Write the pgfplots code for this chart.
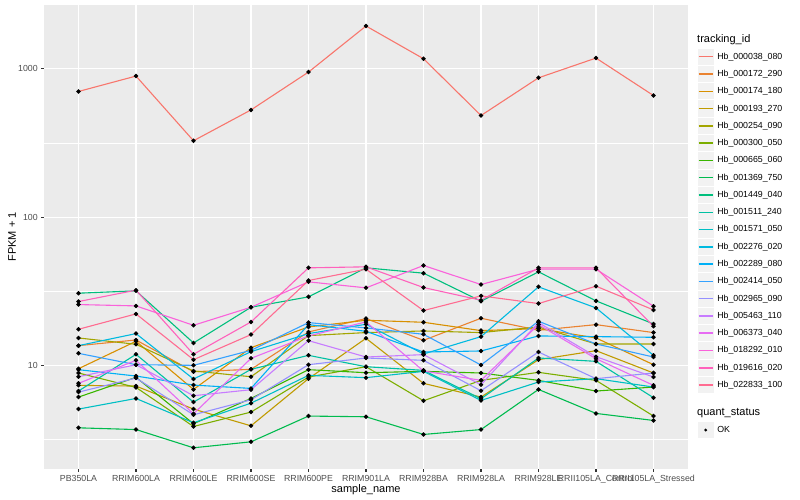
\documentclass[border=0pt]{standalone}
\usepackage{fontspec}
\setmainfont{Liberation Sans}
\usepackage{pgfplots}
\usepackage{pgfplotstable}
\pgfplotsset{compat=1.18}

\definecolor{panel}{HTML}{EBEBEB}
\definecolor{keybg}{HTML}{F2F2F2}
\definecolor{tickgrey}{HTML}{333333}
\definecolor{labgrey}{HTML}{4D4D4D}
\definecolor{c1}{HTML}{F8766D}
\definecolor{c2}{HTML}{EA8331}
\definecolor{c3}{HTML}{D89000}
\definecolor{c4}{HTML}{C09B00}
\definecolor{c5}{HTML}{A3A500}
\definecolor{c6}{HTML}{7CAE00}
\definecolor{c7}{HTML}{39B600}
\definecolor{c8}{HTML}{00BB4E}
\definecolor{c9}{HTML}{00BF7D}
\definecolor{c10}{HTML}{00C1A3}
\definecolor{c11}{HTML}{00BFC4}
\definecolor{c12}{HTML}{00BAE0}
\definecolor{c13}{HTML}{00B0F6}
\definecolor{c14}{HTML}{35A2FF}
\definecolor{c15}{HTML}{9590FF}
\definecolor{c16}{HTML}{C77CFF}
\definecolor{c17}{HTML}{E76BF3}
\definecolor{c18}{HTML}{FA62DB}
\definecolor{c19}{HTML}{FF62BC}
\definecolor{c20}{HTML}{FF6C91}

\newcommand{\ticksize}{\fontsize{8.8bp}{10bp}\selectfont}
\newcommand{\titlesize}{\fontsize{11bp}{13bp}\selectfont}

% FPKM + 1 per sample (x = sample index), one column per tracking_id
\pgfplotstableread{
x  s1   s2    s3    s4    s5    s6    s7    s8    s9    s10   s11   s12   s13   s14   s15   s16   s17   s18   s19   s20
0  703  13.58 9.49  7.33  15.30 8.88  6.11  3.79  30.66 6.71  5.07  13.58 9.35  12.05 6.60  8.38  7.56  25.70 26.93 17.51
1  893  14.83 14.53 7.25  13.87 7.10  8.30  3.69  31.80 11.87 5.98  16.37 8.47  10.10 8.21  10.10 10.81 25.17 32.13 22.23
2  327  9.06  6.88  5.07  9.16  3.87  4.04  2.78  14.16 5.65  4.10  8.09  7.36  10.00 4.64  6.24  4.71  18.63 11.87 10.92
3  528  9.40  13.16 3.91  8.38  4.84  5.98  3.05  24.65 9.40  5.56  12.37 6.99  12.63 5.86  6.85  11.15 24.65 19.63 16.12
4  950  16.80 18.16 8.13  15.87 8.34  9.35  4.55  28.96 11.68 8.56  16.37 18.82 19.42 10.10 14.68 15.79 36.57 45.46 37.34
5  1943 20.67 20.14 15.22 16.63 9.79  8.92  4.50  45.46 9.79  8.26  18.92 16.97 17.88 11.21 11.38 19.63 33.31 46.17 44.52
6  1169 14.75 19.52 7.56  17.06 5.77  9.11  3.42  41.84 9.25  9.11  11.93 12.30 16.20 10.81 11.81 9.16  47.14 33.48 23.41
7  484  20.78 17.15 6.11  16.63 7.92  8.88  3.69  27.07 5.95  5.80  15.62 12.50 10.05 6.74  7.40  7.92  35.08 27.49 29.41
8  869  17.24 17.69 10.92 18.16 8.97  7.92  6.88  42.72 11.21 7.72  33.83 15.79 19.83 12.30 19.42 18.82 44.52 45.46 26.10
9  1181 18.82 15.30 12.56 13.94 7.92  6.71  4.74  27.21 10.64 8.13  24.40 15.62 13.94 8.13  11.44 11.09 44.52 45.46 34.19
10 660  16.63 10.10 8.88  13.94 4.55  7.14  4.25  19.02 6.05  7.14  11.68 15.46 11.38 8.88  8.34  7.33  25.04 18.34 23.65
}\fpkm

\pgfplotsset{
  ggkey/.style={
    legend style={draw=none, fill=none, inner sep=0pt, outer sep=0pt,
      row sep=0pt, column sep=0pt, anchor=north west,
      font=\ticksize, text=black,
      /tikz/every odd column/.append style={column sep=1bp}},
    legend cell align=left,
  },
  gglinekey/.style={legend image code/.code={
    \path[draw=none, fill=none] (0bp,-8.64bp) rectangle (17.28bp,8.64bp);
    \path[draw=none, fill=keybg] (0.5bp,-8.14bp) rectangle (16.78bp,8.14bp);
    \path[draw, ##1, line width=1.5bp] (1.7bp,0bp) -- (15.6bp,0bp);
  }},
  ggpointkey/.style={legend image code/.code={
    \path[draw=none, fill=none] (0bp,-8.64bp) rectangle (17.28bp,8.64bp);
    \path[draw=none, fill=keybg] (0.5bp,-8.14bp) rectangle (16.78bp,8.14bp);
    \path[draw=none, fill=black] (8.64bp,0bp) circle (1.6bp);
  }},
}

\begin{document}
\begin{tikzpicture}
\path[use as bounding box] (0,0) rectangle (800bp,500bp);

\begin{axis}[
  ggkey,
  at={(44bp,31bp)}, anchor=south west,
  width=644bp, height=464bp, scale only axis,
  xmin=-0.6, xmax=10.6,
  ymode=log, ymin=2.0, ymax=2692,
  xtick={0,...,10},
  xticklabels={PB350LA,RRIM600LA,RRIM600LE,RRIM600SE,RRIM600PE,RRIM901LA,RRIM928BA,RRIM928LA,RRIM928LE,RRII105LA\_Control,RRII105LA\_Stressed},
  ytick={10,100,1000}, yticklabels={10,100,1000},
  minor ytick={3.1623,31.623,316.23},
  xmajorgrids, ymajorgrids, yminorgrids,
  major grid style={white, line width=1.07bp},
  minor grid style={white, line width=0.53bp},
  axis background/.style={fill=panel},
  axis line style={draw=none},
  xtick pos=left, ytick pos=left,
  tick align=outside,
  major tick length=2.75bp, minor tick length=0bp,
  tick style={color=tickgrey, line width=1.07bp},
  ticklabel style={font=\ticksize, text=labgrey},
  /pgf/number format/assume math mode=true,
  xlabel={sample\_name}, ylabel={FPKM + 1},
  label style={font=\titlesize, text=black},
  xlabel style={at={(axis description cs:0.5,-0.0453)}, anchor=center},
  ylabel style={at={(axis description cs:-0.0497,0.5)}, anchor=center},
  legend style={at={(1.014,0.9071)}},
  every axis plot/.append style={line width=1.1bp, mark=none},
  every axis plot post/.append style={gglinekey},
]
\addplot[c1]  table[x=x, y=s1]  {\fpkm}; \addlegendentry{Hb\_000038\_080}
\addplot[c2]  table[x=x, y=s2]  {\fpkm}; \addlegendentry{Hb\_000172\_290}
\addplot[c3]  table[x=x, y=s3]  {\fpkm}; \addlegendentry{Hb\_000174\_180}
\addplot[c4]  table[x=x, y=s4]  {\fpkm}; \addlegendentry{Hb\_000193\_270}
\addplot[c5]  table[x=x, y=s5]  {\fpkm}; \addlegendentry{Hb\_000254\_090}
\addplot[c6]  table[x=x, y=s6]  {\fpkm}; \addlegendentry{Hb\_000300\_050}
\addplot[c7]  table[x=x, y=s7]  {\fpkm}; \addlegendentry{Hb\_000665\_060}
\addplot[c8]  table[x=x, y=s8]  {\fpkm}; \addlegendentry{Hb\_001369\_750}
\addplot[c9]  table[x=x, y=s9]  {\fpkm}; \addlegendentry{Hb\_001449\_040}
\addplot[c10] table[x=x, y=s10] {\fpkm}; \addlegendentry{Hb\_001511\_240}
\addplot[c11] table[x=x, y=s11] {\fpkm}; \addlegendentry{Hb\_001571\_050}
\addplot[c12] table[x=x, y=s12] {\fpkm}; \addlegendentry{Hb\_002276\_020}
\addplot[c13] table[x=x, y=s13] {\fpkm}; \addlegendentry{Hb\_002289\_080}
\addplot[c14] table[x=x, y=s14] {\fpkm}; \addlegendentry{Hb\_002414\_050}
\addplot[c15] table[x=x, y=s15] {\fpkm}; \addlegendentry{Hb\_002965\_090}
\addplot[c16] table[x=x, y=s16] {\fpkm}; \addlegendentry{Hb\_005463\_110}
\addplot[c17] table[x=x, y=s17] {\fpkm}; \addlegendentry{Hb\_006373\_040}
\addplot[c18] table[x=x, y=s18] {\fpkm}; \addlegendentry{Hb\_018292\_010}
\addplot[c19] table[x=x, y=s19] {\fpkm}; \addlegendentry{Hb\_019616\_020}
\addplot[c20] table[x=x, y=s20] {\fpkm}; \addlegendentry{Hb\_022833\_100}
% points on top of all lines, as geom_point does
\pgfplotsinvokeforeach{1,...,20}{
  \addplot[only marks, mark=*, mark size=1.6bp, black, forget plot] table[x=x, y=s#1] {\fpkm};
}
\end{axis}

% quant_status key
\begin{axis}[
  ggkey,
  at={(44bp,31bp)}, anchor=south west,
  width=644bp, height=464bp, scale only axis,
  hide axis, xmin=0, xmax=1, ymin=0, ymax=1,
  legend style={at={(1.014,0.1026)}},
]
\addlegendimage{ggpointkey}
\addlegendentry{OK}
\end{axis}

\node[anchor=west, font=\titlesize, inner sep=0pt] at (697bp,460bp) {tracking\_id};
\node[anchor=west, font=\titlesize, inner sep=0pt] at (697bp,87.3bp) {quant\_status};
\end{tikzpicture}
\end{document}
